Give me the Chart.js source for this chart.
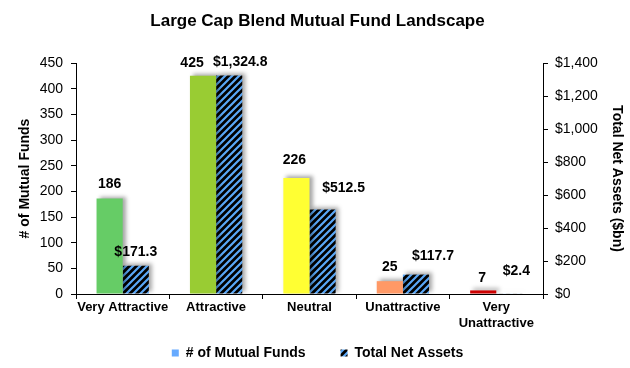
<!DOCTYPE html>
<html>
<head>
<meta charset="utf-8">
<script src="https://cdn.jsdelivr.net/npm/chart.js@4"></script>
<style>
  body { margin: 0; background: #fff; }
</style>
</head>
<body>
<canvas id="landscape" width="630" height="368"></canvas>
<script>
const categories = ["Very Attractive", "Attractive", "Neutral", "Unattractive", ["Very", "Unattractive"]];
const fundCounts = [186, 425, 226, 25, 7];
const netAssets = [171.3, 1324.8, 512.5, 117.7, 2.4];
const fundTicks = { min: 0, max: 450, step: 50 };
const assetTicks = { min: 0, max: 1400, step: 200 };

const barColors = ["#66CC66", "#99CC33", "#FFFF33", "#FF9966", "#CC0000"];
const FONT = "'Liberation Sans', Arial, sans-serif";

// hand-placed label offsets, like in the original (dx, dy) per bar
const fundNudge = [[0, 0], [-11, 1], [-2, -4], [0, 0], [-1, 2]];
const assetNudge = [[0, 0], [11, 1], [21, -7], [17, -4], [7, -8]];

const ctx = document.getElementById("landscape").getContext("2d");

function hatch() {
    const s = 7;
    const c = document.createElement("canvas");
    c.width = s; c.height = s;
    const g = c.getContext("2d");
    g.fillStyle = "#000";
    g.fillRect(0, 0, s, s);
    g.strokeStyle = "#5AA8F8";
    g.lineWidth = 2.2;
    g.beginPath();
    g.moveTo(0, s); g.lineTo(s, 0);
    g.moveTo(-1, 1); g.lineTo(1, -1);
    g.moveTo(s - 1, s + 1); g.lineTo(s + 1, s - 1);
    g.stroke();
    return ctx.createPattern(c, "repeat");
}
const hatchFill = hatch();

const money = v => "$" + v.toLocaleString("en-US", { minimumFractionDigits: 1, maximumFractionDigits: 1 });

const barExtras = {
    id: "barExtras",
    beforeDatasetsDraw(chart) {
        const c = chart.ctx;
        c.save();
        c.shadowColor = "rgba(0,0,0,0.35)";
        c.shadowBlur = 4;
        c.shadowOffsetX = 3;
        c.shadowOffsetY = -2;
    },
    afterDatasetsDraw(chart) {
        const c = chart.ctx;
        c.restore();
        c.save();
        c.font = "bold 14px " + FONT;
        c.fillStyle = "#000";
        c.textAlign = "center";
        c.textBaseline = "middle";
        chart.getDatasetMeta(0).data.forEach((bar, i) => {
            const n = fundNudge[i];
            c.fillText(String(fundCounts[i]), bar.x + n[0], bar.y - 14 + n[1]);
        });
        chart.getDatasetMeta(1).data.forEach((bar, i) => {
            const n = assetNudge[i];
            c.fillText(money(netAssets[i]), bar.x + n[0], bar.y - 14 + n[1]);
        });
        c.restore();
    }
};

const clear = "rgba(0,0,0,0)";

new Chart(ctx, {
    type: "bar",
    data: {
        labels: categories,
        datasets: [
            {
                label: "# of Mutual Funds",
                data: fundCounts,
                backgroundColor: barColors,
                yAxisID: "y",
                categoryPercentage: 0.56,
                barPercentage: 1.0
            },
            {
                label: "Total Net Assets",
                data: netAssets,
                backgroundColor: hatchFill,
                yAxisID: "y1",
                categoryPercentage: 0.56,
                barPercentage: 1.0
            }
        ]
    },
    plugins: [barExtras],
    options: {
        responsive: false,
        animation: false,
        layout: { padding: { left: 10, right: 5, top: 0, bottom: -2 } },
        plugins: {
            title: {
                display: true,
                text: "Large Cap Blend Mutual Fund Landscape",
                color: "#000",
                font: { family: FONT, size: 17, weight: "bold" },
                padding: { top: 11, bottom: 31.6 }
            },
            legend: {
                position: "bottom",
                labels: {
                    color: "#000",
                    font: { family: FONT, size: 14, weight: "bold" },
                    boxWidth: 7,
                    boxHeight: 7,
                    padding: 10.5,
                    // empty middle entry only widens the gap between the two items
                    generateLabels: () => [
                        { text: "# of Mutual Funds", fillStyle: "#66AAFF", strokeStyle: clear, lineWidth: 0, datasetIndex: 0 },
                        { text: "", fillStyle: clear, strokeStyle: clear, lineWidth: 0 },
                        { text: "Total Net Assets", fillStyle: hatchFill, strokeStyle: clear, lineWidth: 0, datasetIndex: 1 }
                    ]
                }
            },
            tooltip: { enabled: false }
        },
        scales: {
            x: {
                grid: { drawOnChartArea: false, color: "#000", tickLength: 5, offset: true },
                border: { color: "#000" },
                ticks: {
                    color: "#000",
                    font: { family: FONT, size: 13, weight: "bold" },
                    padding: 1,
                    maxRotation: 0,
                    autoSkip: false
                },
                afterFit: s => { s.height = 41.5; }
            },
            y: {
                position: "left",
                min: fundTicks.min,
                max: fundTicks.max,
                grid: { drawOnChartArea: false, color: "#000", tickLength: 5 },
                border: { color: "#000" },
                ticks: {
                    stepSize: fundTicks.step,
                    color: "#000",
                    font: { family: FONT, size: 14 },
                    padding: 8
                },
                title: {
                    display: true,
                    text: "# of Mutual Funds",
                    color: "#000",
                    font: { family: FONT, size: 14, weight: "bold" },
                    padding: { top: 7, bottom: 0 }
                },
                afterFit: s => { s.width = 66; }
            },
            y1: {
                position: "right",
                min: assetTicks.min,
                max: assetTicks.max,
                grid: { drawOnChartArea: false, color: "#000", tickLength: 5 },
                border: { color: "#000" },
                ticks: {
                    stepSize: assetTicks.step,
                    color: "#000",
                    font: { family: FONT, size: 14 },
                    padding: 7,
                    callback: v => "$" + v.toLocaleString("en-US")
                },
                title: {
                    display: true,
                    text: "Total Net Assets ($bn)",
                    color: "#000",
                    font: { family: FONT, size: 14, weight: "bold" },
                    padding: { top: 0, bottom: 0 }
                },
                afterFit: s => { s.width = 82; }
            }
        }
    }
});
</script>
</body>
</html>
